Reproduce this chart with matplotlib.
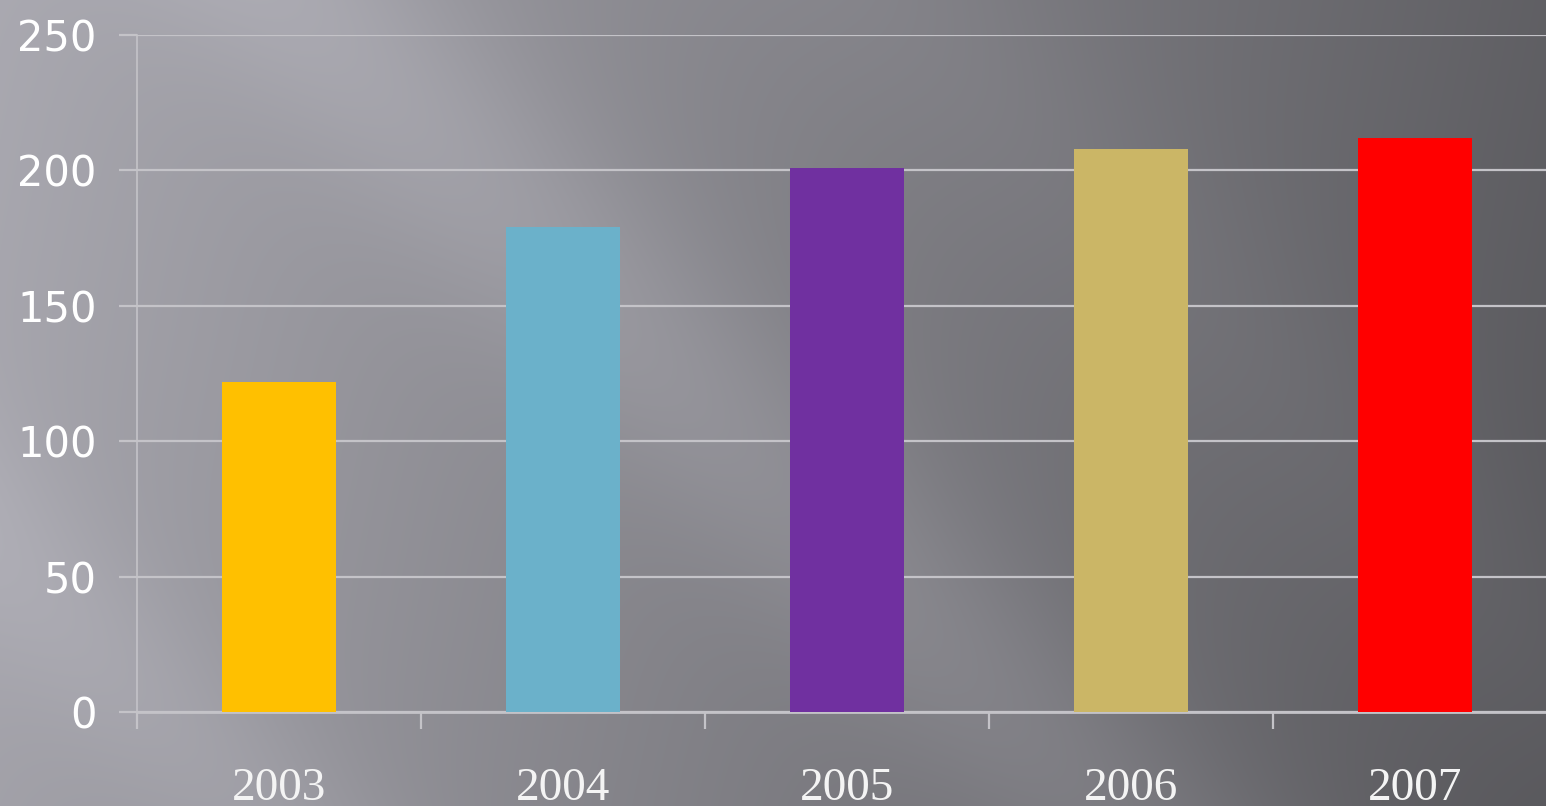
import numpy as np
import matplotlib.pyplot as plt

years = ["2003", "2004", "2005", "2006", "2007"]
values = [122, 179, 201, 208, 212]
y_ticks = [0, 50, 100, 150, 200, 250]

BAR_COLORS = ["#ffc000", "#6bb1ca", "#7030a0", "#cbb666", "#ff0000"]
GRID_COLOR = "#c4c3c8"

W, H = 1546, 806
fig = plt.figure(figsize=(W / 100, H / 100), dpi=100)

# gradient slide background with soft diagonal streaks
bg = fig.add_axes([0, 0, 1, 1], zorder=0)
xx, yy = np.meshgrid(np.arange(W), np.arange(H))
v = 0.67 - 0.29 * (xx / W) - 0.03 * (yy / H)
d = xx - yy
v += 0.06 * np.exp(-((d - 300) / 160) ** 2)
v += 0.04 * np.exp(-((d + 550) / 130) ** 2)
v += 0.02 * np.exp(-((d - 900) / 160) ** 2)
v = np.clip(v, 0, 1)
rgb = np.dstack([v * 0.99, v * 0.985, v * 1.03])
bg.imshow(np.clip(rgb, 0, 1), aspect="auto", extent=[0, 1, 0, 1], origin="upper")
bg.axis("off")

ax = fig.add_axes([137 / W, 94 / H, 1420 / W, 677 / H], zorder=1)
ax.patch.set_visible(False)
x = np.arange(len(years))
ax.bar(x, values, width=0.4, color=BAR_COLORS, zorder=3)

ax.set_xlim(-0.5, len(years) - 0.5)
ax.set_ylim(0, 250)
ax.set_yticks(y_ticks)
ax.yaxis.grid(True, color=GRID_COLOR, lw=1.6, zorder=1)
ax.set_axisbelow(True)

ax.set_xticks(np.arange(len(years) + 1) - 0.5, minor=False)
ax.set_xticklabels([])
ax.set_xticks(x, minor=True)
ax.set_xticklabels(years, minor=True, fontfamily="Liberation Serif",
                   fontsize=34, color="#f4f4f4")
ax.tick_params(axis="x", which="major", length=12, width=1.6,
               color=GRID_COLOR, direction="out")
ax.tick_params(axis="x", which="minor", length=0, pad=40)
ax.tick_params(axis="y", length=13, width=1.6, color=GRID_COLOR,
               pad=16, labelsize=30, labelcolor="white")

for s in ("top", "right"):
    ax.spines[s].set_visible(False)
ax.spines["left"].set_color(GRID_COLOR)
ax.spines["left"].set_linewidth(1.2)
ax.spines["bottom"].set_color(GRID_COLOR)
ax.spines["bottom"].set_linewidth(2.0)

fig.savefig("out.png", dpi=100)
